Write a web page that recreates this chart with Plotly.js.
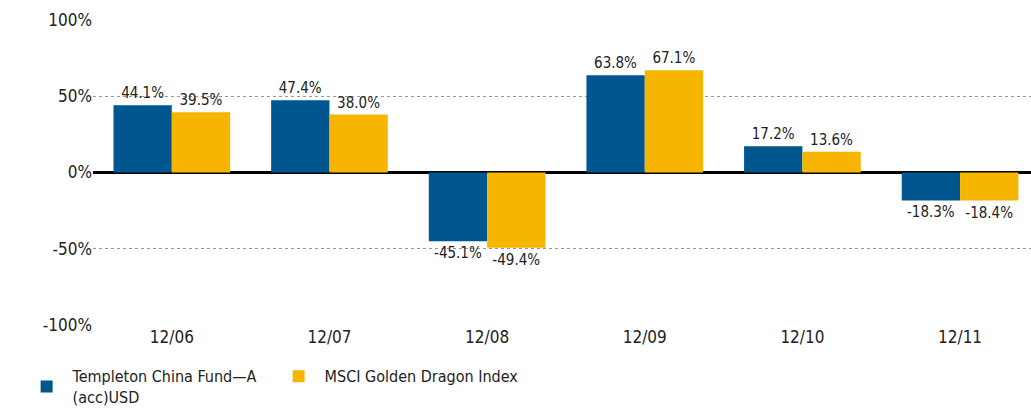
<!DOCTYPE html>
<html><head><meta charset="utf-8">
<script src="https://cdn.plot.ly/plotly-3.0.1.min.js"></script>
<style>html,body{margin:0;padding:0;background:#fff}</style>
</head><body>
<div id="chart" style="width:1031px;height:412px"></div>
<script>
const categories = ["12/06","12/07","12/08","12/09","12/10","12/11"];
const fundName = "Templeton China Fund—A<br>(acc)USD";
const indexName = "MSCI Golden Dragon Index";
const fundValues = [44.1, 47.4, -45.1, 63.8, 17.2, -18.3];
const indexValues = [39.5, 38.0, -49.4, 67.1, 13.6, -18.4];
const yTickVals = [-100, -50, 0, 50, 100];
const yTickText = ["-100%", "-50%", "0%", "50%", "100%"];

const FONT = '"Liberation Sans Narrow", "DejaVu Sans Condensed", "Roboto", sans-serif';
function fmt(v){ return v.toFixed(1) + "%"; }

const traces = [
  {type:"bar", name:fundName, x:categories, y:fundValues,
   marker:{color:"#00568F"}, text:fundValues.map(fmt), textposition:"outside",
   textfont:{family:FONT, size:15, color:"#222"}, cliponaxis:false, hoverinfo:"none"},
  {type:"bar", name:indexName, x:categories, y:indexValues,
   marker:{color:"#F7B500"}, text:indexValues.map(fmt), textposition:"outside",
   textfont:{family:FONT, size:15, color:"#222"}, cliponaxis:false, hoverinfo:"none"}
];

const layout = {
  width:1031, height:412,
  margin:{l:93, r:0, t:20, b:87},
  paper_bgcolor:"#fff", plot_bgcolor:"#fff",
  font:{family:FONT, size:17, color:"#222"},
  barmode:"group", bargap:0.26, bargroupgap:0,
  xaxis:{type:"category", range:[-0.5, 5.45], showgrid:false, zeroline:false,
         showline:false, ticks:"", tickfont:{family:FONT, size:17, color:"#222"}},
  yaxis:{range:[-100,100], tickvals:yTickVals, ticktext:yTickText,
         showgrid:true, gridcolor:"#999", griddash:"dot", gridwidth:1,
         zeroline:true, zerolinecolor:"#000", zerolinewidth:3,
         ticks:"", ticklen:0, tickfont:{family:FONT, size:17, color:"#222"}},
  showlegend:true,
  legend:{orientation:"h", xref:"container", yref:"container", x:0.02, y:0.128,
          yanchor:"top", xanchor:"left", entrywidth:195, entrywidthmode:"pixels",
          itemwidth:42,
          font:{family:FONT, size:16, color:"#222"}, traceorder:"normal"}
};
Plotly.newPlot("chart", traces, layout, {displayModeBar:false, staticPlot:true});
</script>
</body></html>
